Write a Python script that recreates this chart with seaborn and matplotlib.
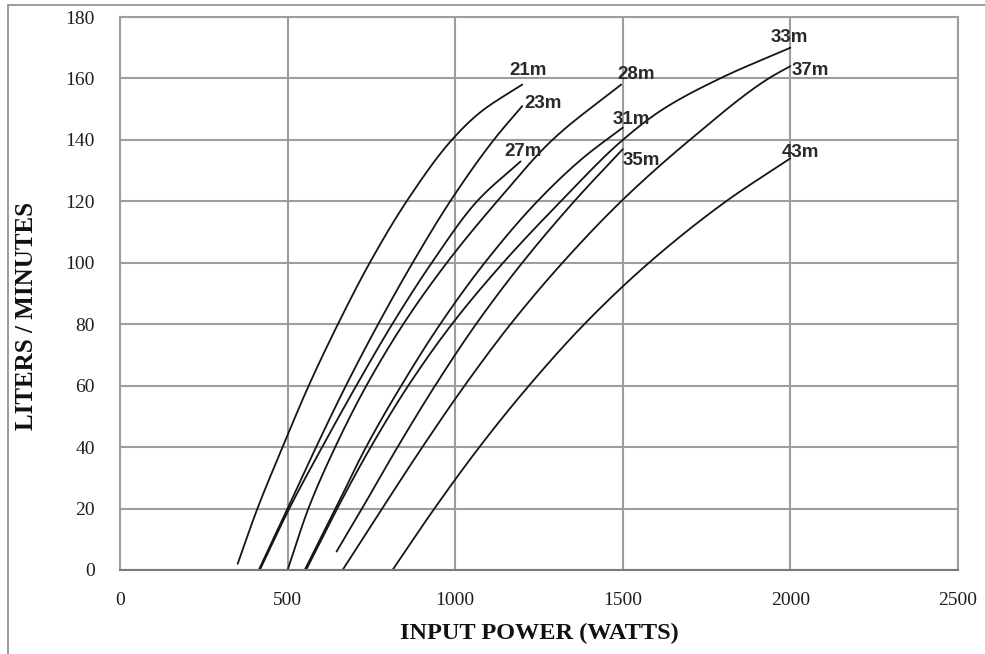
import numpy as np
import pandas as pd
import matplotlib
matplotlib.use("Agg")
import matplotlib.pyplot as plt
import seaborn as sns
from matplotlib.patches import Rectangle

# Pump performance curves: flow rate versus electrical input power, one curve per head
heads = ["21m", "23m", "27m", "28m", "31m", "33m", "35m", "37m", "43m"]

power_21m = [351, 410, 485, 563, 650, 745, 855, 990, 1075, 1200]
flow_21m = [2, 20, 40, 60, 80, 100, 120, 140, 149, 158]

power_23m = [414, 500, 585, 674, 770, 873, 985, 1115, 1200]
flow_23m = [0, 20, 40, 60, 80, 100, 120, 140, 151]

power_27m = [417, 505, 603, 705, 812, 930, 1065, 1195]
flow_27m = [0, 20, 40, 60, 80, 100, 120, 133]

power_28m = [500, 562, 642, 735, 845, 975, 1125, 1290, 1495]
flow_28m = [0, 20, 40, 60, 80, 100, 120, 140, 158]

power_31m = [551, 643, 734, 839, 955, 1088, 1245, 1380, 1500]
flow_31m = [0, 20, 40, 60, 80, 100, 120, 134, 144]

power_33m = [555, 648, 748, 860, 990, 1143, 1315, 1500, 1620, 1790, 2000]
flow_33m = [0, 20, 40, 60, 80, 100, 120, 140, 150, 160, 170]

power_35m = [646, 722, 828, 940, 1062, 1200, 1355, 1500]
flow_35m = [6, 20, 40, 60, 80, 100, 120, 137]

power_37m = [664, 782, 902, 1028, 1165, 1320, 1495, 1700, 1935, 2000]
flow_37m = [0, 20, 40, 60, 80, 100, 120, 140, 160, 164]

power_43m = [813, 938, 1072, 1220, 1385, 1578, 1808, 2000]
flow_43m = [0, 20, 40, 60, 80, 100, 120, 134]

x_ticks = [0, 500, 1000, 1500, 2000, 2500]
y_ticks = [0, 20, 40, 60, 80, 100, 120, 140, 160, 180]

powers = [power_21m, power_23m, power_27m, power_28m, power_31m,
          power_33m, power_35m, power_37m, power_43m]
flows = [flow_21m, flow_23m, flow_27m, flow_28m, flow_31m,
         flow_33m, flow_35m, flow_37m, flow_43m]

# label offsets (points) from each curve's last point
label_offsets = {
    "21m": (4, 10), "23m": (15, 2), "27m": (2, 7), "28m": (11, 7),
    "31m": (6, 6), "33m": (-1, 7), "35m": (13, -8), "37m": (14, -3),
    "43m": (7, 4),
}


def smooth_curve(x, y, n=200):
    """Shape-preserving (PCHIP) smoothing through the given points."""
    x = np.asarray(x, float)
    y = np.asarray(y, float)
    h = np.diff(x)
    d = np.diff(y) / h
    m = np.zeros_like(x)
    for k in range(1, len(x) - 1):
        if d[k - 1] * d[k] > 0:
            w1 = 2 * h[k] + h[k - 1]
            w2 = h[k] + 2 * h[k - 1]
            m[k] = (w1 + w2) / (w1 / d[k - 1] + w2 / d[k])
    m[0] = d[0]
    m[-1] = d[-1]
    xs = np.linspace(x[0], x[-1], n)
    idx = np.clip(np.searchsorted(x, xs) - 1, 0, len(x) - 2)
    t = (xs - x[idx]) / h[idx]
    h00 = 2 * t**3 - 3 * t**2 + 1
    h10 = t**3 - 2 * t**2 + t
    h01 = -2 * t**3 + 3 * t**2
    h11 = t**3 - t**2
    ys = (h00 * y[idx] + h10 * h[idx] * m[idx]
          + h01 * y[idx + 1] + h11 * h[idx] * m[idx + 1])
    return xs, ys


frames = []
for h, p, f in zip(heads, powers, flows):
    xs, ys = smooth_curve(p, f)
    frames.append(pd.DataFrame({"power": xs, "flow": ys, "head": h}))
df = pd.concat(frames, ignore_index=True)

sns.set_theme(style="whitegrid")
plt.rcParams["font.family"] = ["Liberation Serif", "DejaVu Serif"]

fig = plt.figure(figsize=(9.85, 6.54), dpi=100)
ax = fig.add_axes([120 / 985, 1 - 570 / 654, (958 - 120) / 985, (570 - 17) / 654])
ax.set_facecolor("white")

sns.lineplot(data=df, x="power", y="flow", units="head", estimator=None,
             sort=False, color="#151515", linewidth=1.3, ax=ax, legend=False)

for h, p, f in zip(heads, powers, flows):
    ax.annotate(h, xy=(p[-1], f[-1]), xytext=label_offsets[h],
                textcoords="offset points", ha="center", va="center",
                fontsize=13.5, fontweight="bold", color="#2a2a2a",
                family=["Liberation Sans", "DejaVu Sans"])

ax.set_xlim(0, 2500)
ax.set_ylim(0, 180)
ax.set_xticks(x_ticks)
ax.set_yticks(y_ticks)
ax.grid(True, color="#9d9d9d", linewidth=1.5)
for s in ax.spines.values():
    s.set_visible(True)
    s.set_color("#9d9d9d")
    s.set_linewidth(1.5)
ax.spines["bottom"].set_color("#7a7a7a")

ax.tick_params(axis="both", direction="out", length=6, width=1.2,
               color="#8a8a8a", labelcolor="#1e1e1e", labelsize=14)
ax.tick_params(axis="x", pad=10)
ax.tick_params(axis="y", pad=12)

ax.set_xlabel("INPUT POWER (WATTS)", fontsize=17.5, fontweight="bold",
              color="#111111", labelpad=10)
ax.set_ylabel("LITERS / MINUTES", fontsize=18, fontweight="bold",
              color="#111111")
ax.yaxis.set_label_coords(-0.098, 0.46)

fig.patches.append(Rectangle((8 / 985, -0.1), 1.2, 1.1 - 5 / 654,
                             transform=fig.transFigure, fill=False,
                             edgecolor="#8a8a8a", linewidth=1.2))

fig.savefig("out.png", dpi=100, facecolor="white")
